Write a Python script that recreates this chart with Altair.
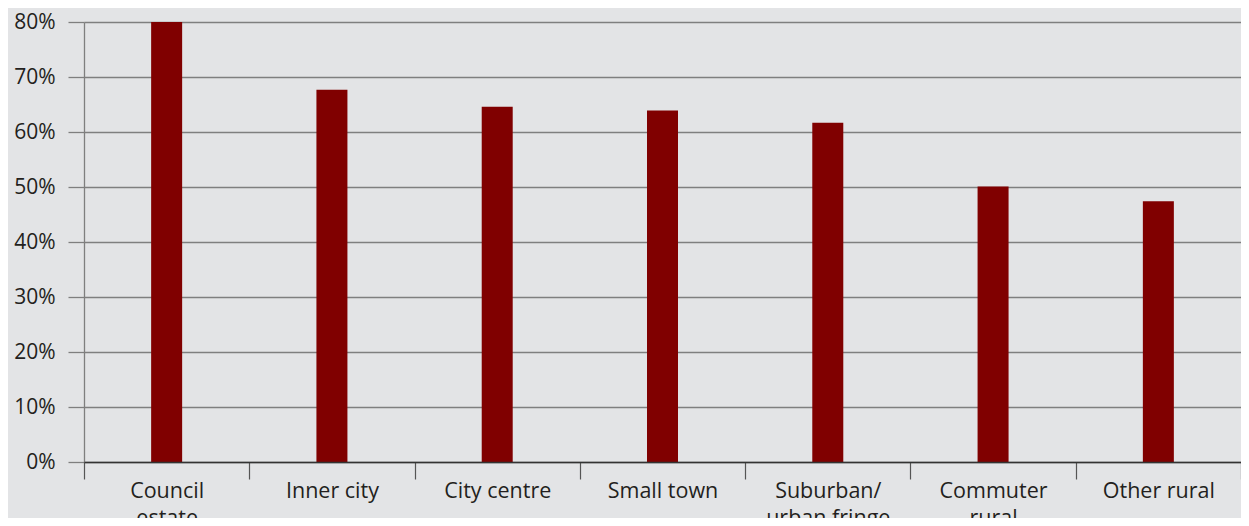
import altair as alt
import pandas as pd

categories = ["Council\nestate", "Inner city", "City centre", "Small town",
              "Suburban/\nurban fringe", "Commuter\nrural", "Other rural"]
values = [0.800, 0.677, 0.646, 0.639, 0.617, 0.501, 0.474]
y_ticks = [0, 0.1, 0.2, 0.3, 0.4, 0.5, 0.6, 0.7, 0.8]

df = pd.DataFrame({"area": categories, "share": values})

FONT = "Open Sans"
TEXT = "#231f20"
BG = "#e3e4e6"

chart = alt.Chart(df).mark_bar(color="#800000", size=31).encode(
    x=alt.X("area:N", sort=None, title=None,
            scale=alt.Scale(paddingInner=0, paddingOuter=0),
            axis=alt.Axis(labelAngle=0, tickBand="extent", tickSize=17,
                          tickColor="#555555", tickWidth=1.2,
                          domainColor="#333333", domainWidth=1.4,
                          labelExpr="split(datum.label, '\\n')",
                          labelFont=FONT, labelFontSize=21.5, labelColor=TEXT,
                          labelPadding=1, labelLineHeight=27,
                          labelBaseline="top", grid=False, zindex=2)),
    y=alt.Y("share:Q", title=None,
            scale=alt.Scale(domain=[0, 0.8], nice=False),
            axis=alt.Axis(values=y_ticks, format=".0%", grid=True,
                          gridColor="#7f7f7f", gridWidth=1.3,
                          tickColor="#7f7f7f", tickWidth=1.3, tickSize=16,
                          domainColor="#7f7f7f", domainWidth=1.3,
                          labelFont=FONT, labelFontSize=21, labelColor=TEXT,
                          labelPadding=13)),
).properties(
    width=1157, height=440,
    autosize=alt.AutoSizeParams(type="none"),
    padding={"left": 76, "top": 14, "right": 0, "bottom": 56},
    background=BG,
).configure_view(stroke=None)

chart.save("out.html", embed_options={"renderer": "svg", "actions": False})
